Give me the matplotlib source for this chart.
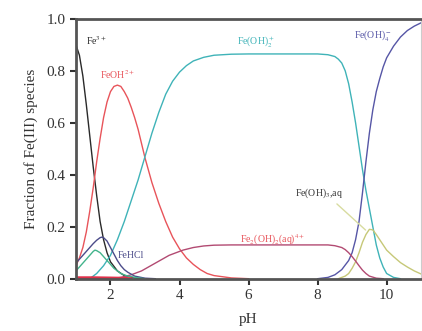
import matplotlib
matplotlib.use('Agg')
import matplotlib.pyplot as plt

plt.rcParams['font.family'] = ['Liberation Serif', 'DejaVu Serif']
plt.rcParams['mathtext.fontset'] = 'stix'

# pH values and species fractions
ph_fe3 = [1.0, 1.1, 1.2, 1.3, 1.4, 1.5, 1.6, 1.7, 1.8, 1.9, 2.0, 2.2, 2.4, 2.7, 3.0]
fe3 = [0.90, 0.86, 0.78, 0.67, 0.55, 0.43, 0.32, 0.22, 0.15, 0.10, 0.065, 0.03,
       0.012, 0.003, 0.0]

ph_feoh = [1.0, 1.1, 1.2, 1.3, 1.4, 1.5, 1.6, 1.7, 1.8, 1.9, 2.0, 2.1, 2.2, 2.3,
           2.4, 2.5, 2.6, 2.7, 2.8, 2.9, 3.0, 3.2, 3.4, 3.6, 3.8, 4.0, 4.2, 4.4,
           4.6, 4.8, 5.0, 5.5, 6.0]
feoh = [0.05, 0.08, 0.12, 0.18, 0.26, 0.35, 0.45, 0.54, 0.62, 0.68, 0.72, 0.74,
        0.745, 0.74, 0.72, 0.695, 0.66, 0.62, 0.575, 0.52, 0.465, 0.37, 0.29,
        0.22, 0.16, 0.115, 0.08, 0.055, 0.035, 0.02, 0.012, 0.003, 0.0]

ph_feoh2 = [1.4, 1.6, 1.8, 2.0, 2.2, 2.4, 2.6, 2.8, 3.0, 3.2, 3.4, 3.6, 3.8, 4.0,
            4.2, 4.4, 4.7, 5.0, 5.5, 6.0, 7.0, 8.0, 8.3, 8.5, 8.6, 8.7, 8.8,
            8.9, 9.0, 9.1, 9.2, 9.3, 9.4, 9.5, 9.6, 9.7, 9.8, 9.9, 10.0, 10.2,
            10.4]
feoh2 = [0.0, 0.02, 0.05, 0.09, 0.15, 0.22, 0.30, 0.38, 0.47, 0.56, 0.64, 0.71,
         0.76, 0.795, 0.82, 0.838, 0.852, 0.86, 0.864, 0.865, 0.865, 0.865,
         0.862, 0.855, 0.845, 0.83, 0.80, 0.75, 0.68, 0.60, 0.51, 0.42, 0.34,
         0.27, 0.20, 0.13, 0.08, 0.045, 0.02, 0.005, 0.0]

ph_feoh4 = [8.0, 8.3, 8.5, 8.7, 8.9, 9.0, 9.1, 9.2, 9.3, 9.4, 9.5, 9.6, 9.7, 9.8,
            9.9, 10.0, 10.2, 10.4, 10.6, 10.8, 11.0]
feoh4 = [0.0, 0.005, 0.015, 0.035, 0.07, 0.10, 0.15, 0.22, 0.33, 0.45, 0.56,
         0.65, 0.72, 0.77, 0.815, 0.85, 0.895, 0.93, 0.955, 0.972, 0.985]

ph_feoh3 = [8.6, 8.8, 8.9, 9.0, 9.1, 9.2, 9.3, 9.4, 9.5, 9.6, 9.7, 9.8, 9.9,
            10.0, 10.2, 10.4, 10.6, 10.8, 11.0]
feoh3 = [0.0, 0.01, 0.02, 0.04, 0.065, 0.10, 0.14, 0.17, 0.19, 0.188, 0.17,
         0.15, 0.13, 0.11, 0.085, 0.062, 0.045, 0.03, 0.018]

ph_dimer = [2.0, 2.3, 2.6, 2.9, 3.1, 3.3, 3.5, 3.7, 3.9, 4.1, 4.4, 4.7, 5.0, 5.5,
            7.0, 8.3, 8.5, 8.7, 8.8, 8.9, 9.0, 9.1, 9.2, 9.3, 9.4, 9.5, 9.7, 9.9]
dimer = [0.0, 0.005, 0.015, 0.03, 0.045, 0.06, 0.075, 0.09, 0.10, 0.11, 0.12,
         0.126, 0.129, 0.13, 0.13, 0.13, 0.127, 0.12, 0.112, 0.10, 0.085, 0.068,
         0.05, 0.033, 0.02, 0.01, 0.002, 0.0]

ph_fehcl = [1.0, 1.1, 1.2, 1.3, 1.4, 1.5, 1.6, 1.7, 1.75, 1.8, 1.9, 2.0, 2.1,
            2.2, 2.3, 2.4, 2.5, 2.7, 3.0, 3.3]
fehcl = [0.06, 0.075, 0.09, 0.105, 0.12, 0.135, 0.148, 0.158, 0.16, 0.158,
         0.145, 0.12, 0.095, 0.07, 0.05, 0.035, 0.025, 0.01, 0.002, 0.0]

ph_small = [1.0, 1.1, 1.2, 1.3, 1.4, 1.5, 1.55, 1.6, 1.7, 1.8, 1.9, 2.0, 2.1,
            2.2, 2.3, 2.5, 2.8, 3.0]
small = [0.03, 0.045, 0.06, 0.075, 0.09, 0.105, 0.11, 0.108, 0.10, 0.085, 0.07,
         0.055, 0.04, 0.03, 0.02, 0.01, 0.003, 0.0]

ph_low = [1.0, 1.5, 2.0, 2.4, 2.6]
low = [0.004, 0.004, 0.003, 0.002, 0.0]

fig = plt.figure(figsize=(4.22, 3.31), dpi=100)
ax = fig.add_axes([0.18, 0.158, 0.818, 0.785])

ax.plot(ph_fe3, fe3, color='#2a2a2a', lw=1.0)
ax.plot(ph_feoh, feoh, color='#e8545a', lw=1.0)
ax.plot(ph_feoh2, feoh2, color='#3fb3b8', lw=1.0)
ax.plot(ph_feoh4, feoh4, color='#5656a6', lw=1.0)
ax.plot(ph_feoh3, feoh3, color='#c6c878', lw=1.0)
ax.plot(ph_dimer, dimer, color='#b24a72', lw=1.0)
ax.plot(ph_fehcl, fehcl, color='#4c4c8a', lw=1.0)
ax.plot(ph_small, small, color='#43b48c', lw=1.0)
ax.plot(ph_low, low, color='#e0304a', lw=2.0)

fs = 7
ax.text(1.3, 0.9, r'Fe$^{3+}$', color='#2a2a2a', fontsize=fs)
ax.text(2.2, 0.77, r'FeOH$^{2+}$', color='#e8545a', fontsize=fs, ha='center')
ax.text(6.2, 0.9, r'Fe(OH)$_2^+$', color='#3fb3b8', fontsize=fs, ha='center')
ax.text(9.6, 0.925, r'Fe(OH)$_4^-$', color='#5656a6', fontsize=fs, ha='center')
ax.text(8.05, 0.32, r'Fe(OH)$_3$,aq', color='#333333', fontsize=fs, ha='center')
ax.text(6.7, 0.14, r'Fe$_2$(OH)$_2$(aq)$^{4+}$', color='#e8545a', fontsize=fs,
        ha='center')
ax.text(2.6, 0.08, 'FeHCl', color='#4c4c8a', fontsize=fs, ha='center')
ax.annotate('', xy=(9.45, 0.18), xytext=(8.5, 0.295),
            arrowprops=dict(arrowstyle='-', color='#d8dca0', lw=1.0))

ax.set_xlim(1, 11)
ax.set_ylim(0, 1.0)
ax.set_xticks([2, 4, 6, 8, 10])
ax.set_yticks([0.0, 0.2, 0.4, 0.6, 0.8, 1.0])
ax.set_yticklabels(['0.0', '0.2', '0.4', '0.6', '0.8', '1.0'])
ax.tick_params(direction='out', length=4, width=1.5, labelsize=11, colors='#333333')
for side in ['left', 'bottom', 'top']:
    ax.spines[side].set_linewidth(2.0)
    ax.spines[side].set_color('#555555')
ax.spines['right'].set_linewidth(0.8)
ax.spines['right'].set_color('#cccccc')

ax.set_xlabel('pH', fontsize=11, color='#333333', labelpad=8)
ax.set_ylabel('Fraction of Fe(III) species', fontsize=11, color='#333333', labelpad=6)

fig.savefig('out.png', dpi=100)
